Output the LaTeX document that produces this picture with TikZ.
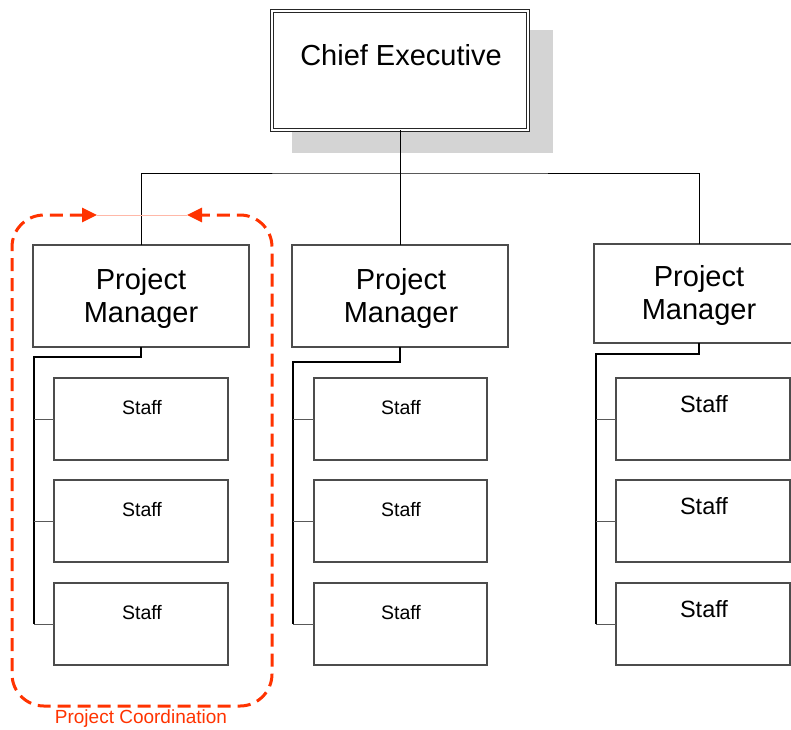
\documentclass[tikz,border=0pt]{standalone}
\usepackage{fontspec}
\setmainfont{Liberation Sans}
\usetikzlibrary{arrows.meta}
\definecolor{coordred}{HTML}{FF3300}
\definecolor{shadowgray}{HTML}{D4D4D4}
\definecolor{linkpink}{HTML}{FFB8A8}
\begin{document}
\begin{tikzpicture}[x=1pt,y=-1pt,
  box/.style={rectangle, draw=black!70, line width=1.2pt, fill=white, inner sep=0pt, outer sep=0pt},
  cebox/.style={rectangle, draw=black!85, fill=white, line width=1pt, double=white, double distance=2pt, inner sep=0pt, outer sep=0pt, minimum width=256, minimum height=119},
  pmbox/.style={box, minimum width=216, minimum height=102},
  staffbox/.style={box, minimum width=174, minimum height=82},
  link/.style={draw=black, line width=1pt},
  stub/.style={draw=black!65, line width=1pt},
  bigtext/.style={font=\fontsize{29}{33}\selectfont, anchor=base, inner sep=0pt},
  stafftext/.style={font=\fontsize{19.5}{22}\selectfont, anchor=base, inner sep=0pt},
  staffbig/.style={font=\fontsize{23.5}{27}\selectfont, anchor=base, inner sep=0pt},
  coord/.style={draw=coordred, line width=3pt, dash pattern=on 13pt off 7pt, rounded corners=32pt},
]
\clip (0,0) rectangle (791,729);
\fill[white] (0,0) rectangle (791,729);

% shadow behind the top box
\fill[shadowgray] (292,30) rectangle (553,153);

% top box
\node[cebox, anchor=north west] (ce) at (272,11) {};
\node[bigtext] (cet) at (401,65) {Chief Executive};

% managers
\node[pmbox, anchor=north west] (pm1) at (33,245) {};
\node[pmbox, anchor=north west] (pm2) at (292,245) {};
\node[pmbox, anchor=north west, minimum width=210, minimum height=99] (pm3) at (594,244) {};

% connectors from the top box to the managers
\coordinate (bus) at (400,173);
\draw[link] (ce.south) -- (pm2.north);
\draw[link] (pm1.north) |- (bus) -| (pm3.north);

\node[bigtext] (pm1a) at (141,289) {Project};
\node[bigtext] (pm1b) at (141,322) {Manager};
\node[bigtext] (pm2a) at (401,289) {Project};
\node[bigtext] (pm2b) at (401,322) {Manager};
\node[bigtext] (pm3a) at (699,286) {Project};
\node[bigtext] (pm3b) at (699,319) {Manager};

% staff boxes
\foreach \r/\y in {1/378, 2/480, 3/583} {
  \node[staffbox, anchor=north west] (s1\r) at (54,\y) {};
  \node[staffbox, anchor=north west, minimum width=173] (s2\r) at (314,\y) {};
  \node[staffbox, anchor=north west] (s3\r) at (616,\y) {};
  \node[stafftext] (t1\r) at (142,\y+36) {Staff};
  \node[stafftext] (t2\r) at (401,\y+36) {Staff};
  \node[staffbig] (t3\r) at (704,\y+34) {Staff};
}

% staff connectors
\coordinate (j1) at (34,357);
\coordinate (j2) at (293,362);
\coordinate (j3) at (596,354);
\draw[link, line width=1.3pt] (pm1.south) |- (j1) -- (j1 |- s13.west);
\draw[link, line width=1.3pt] (pm2.south) |- (j2) -- (j2 |- s23.west);
\draw[link, line width=1.3pt] (pm3.south) |- (j3) -- (j3 |- s33.west);
\foreach \c in {1,2,3} {
  \foreach \r in {1,2,3} {
    \draw[stub] (s\c\r.west) -- (s\c\r.west -| j\c);
  }
}

% project coordination loop
\coordinate (cl) at (97,215);
\coordinate (cr) at (187,215);
\draw[linkpink, line width=0.8pt] (cl) -- (cr);
\draw[coord, {Triangle[length=15pt, width=14pt]}-{Triangle[length=15pt, width=14pt]}]
  (cl) -- (12,215) -- (12,706) -- (272,706) -- (272,215) -- (cr);
\node[font=\fontsize{19}{22}\selectfont, text=coordred, anchor=base, inner sep=0pt] (pc) at (141,723) {Project Coordination};
\end{tikzpicture}
\end{document}
